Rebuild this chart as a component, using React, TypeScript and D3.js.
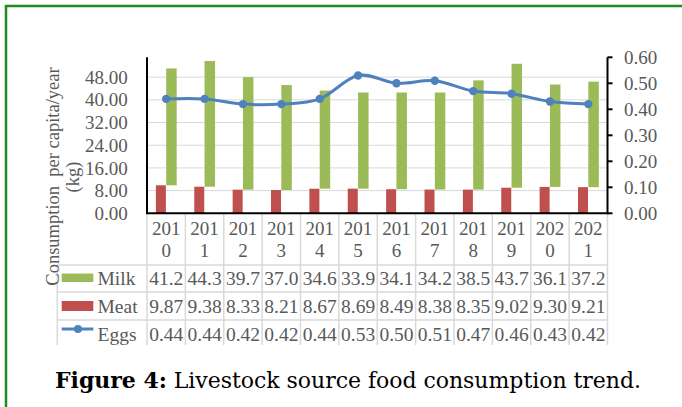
import React from "react";
import * as d3 from "d3";

const years = ["2010","2011","2012","2013","2014","2015","2016","2017","2018","2019","2020","2021"];
const milk = [41.2,44.3,39.7,37.0,34.6,33.9,34.1,34.2,38.5,43.7,36.1,37.2];
const meat = [9.87,9.38,8.33,8.21,8.67,8.69,8.49,8.38,8.35,9.02,9.30,9.21];
const eggs = [0.44,0.44,0.42,0.42,0.44,0.53,0.50,0.51,0.47,0.46,0.43,0.42];
const milkLabels = ["41.2","44.3","39.7","37.0","34.6","33.9","34.1","34.2","38.5","43.7","36.1","37.2"];
const meatLabels = ["9.87","9.38","8.33","8.21","8.67","8.69","8.49","8.38","8.35","9.02","9.30","9.21"];
const eggLabels = ["0.44","0.44","0.42","0.42","0.44","0.53","0.50","0.51","0.47","0.46","0.43","0.42"];
const leftTicks = [0,8,16,24,32,40,48];
const rightTicks = [0,0.1,0.2,0.3,0.4,0.5,0.6];

const C_MILK = "#9BBB59";
const C_MEAT = "#C0504D";
const C_EGG = "#4F81BD";
const GRID = "#d9d9d9";
const TXT = "#595959";
const FONT = "'Liberation Serif', 'Times New Roman', serif";

export default function App() {
  const W = 682, H = 407;
  const x0 = 147, x1 = 607.5, yBase = 213.3, yTop = 57.3;
  const x = d3.scaleBand<string>().domain(years).range([x0, x1]).padding(0);
  const yL = d3.scaleLinear().domain([0, 55]).range([yBase, yTop]);
  const yR = d3.scaleLinear().domain([0, 0.6]).range([yBase, yTop]);
  const bw = x.bandwidth();
  const cx = (y: string) => (x(y) as number) + bw / 2;

  const line = d3.line<number>()
    .x((_, i) => cx(years[i]))
    .y((d) => yR(d))
    .curve(d3.curveCatmullRom.alpha(0));

  const rowLines = [213.3, 265, 292, 320];
  const rowCenters = { header1: 228, header2: 250, milk: 278, meat: 306, eggs: 334 };
  const tableLeft = 57.3, tableBottom = 345;

  return (
    <svg width={W} height={H} style={{ position: "absolute", left: 0, top: 0, display: "block", background: "#fff" }} fontFamily={FONT}>
      {/* green border */}
      <line x1={5} y1={6} x2={W} y2={6} stroke="#1e8c1e" strokeWidth={2.5} />
      <line x1={6} y1={5} x2={6} y2={H} stroke="#1e8c1e" strokeWidth={2.5} />

      {/* gridlines */}
      {leftTicks.filter((t) => t > 0).map((t) => (
        <line key={t} x1={x0} x2={x1} y1={yL(t)} y2={yL(t)} stroke={GRID} strokeWidth={1} />
      ))}

      {/* bars */}
      {years.map((yr, i) => (
        <g key={yr}>
          <rect x={cx(yr) - 10.3} y={yL(meat[i])} width={10} height={yBase - yL(meat[i])} fill={C_MEAT} />
          <rect x={cx(yr)} y={yL(meat[i] + milk[i])} width={10.5} height={yL(meat[i]) - yL(meat[i] + milk[i])} fill={C_MILK} />
        </g>
      ))}

      {/* eggs line */}
      <path d={line(eggs) || ""} fill="none" stroke={C_EGG} strokeWidth={3} />
      {eggs.map((v, i) => (
        <circle key={i} cx={cx(years[i])} cy={yR(v)} r={4.2} fill={C_EGG} />
      ))}

      {/* table lines */}
      {d3.range(years.length + 1).map((i) => {
        const xx = x0 + i * bw;
        return <line key={i} x1={xx} x2={xx} y1={yBase} y2={tableBottom} stroke={GRID} strokeWidth={1.5} />;
      })}
      {rowLines.slice(1).map((yy) => (
        <line key={yy} x1={tableLeft} x2={x1} y1={yy} y2={yy} stroke={GRID} strokeWidth={1.5} />
      ))}
      <line x1={tableLeft} x2={tableLeft} y1={265} y2={tableBottom} stroke={GRID} strokeWidth={1.5} />

      {/* axes */}
      <line x1={x0} x2={x0} y1={yTop} y2={yBase} stroke="#000" strokeWidth={2} />
      <line x1={x1} x2={x1} y1={yTop} y2={yBase} stroke="#000" strokeWidth={2} />
      <line x1={x0 - 1} x2={x1 + 1} y1={yBase} y2={yBase} stroke="#000" strokeWidth={2} />
      {rightTicks.map((t) => (
        <line key={t} x1={x1} x2={x1 + 5} y1={yR(t)} y2={yR(t)} stroke="#000" strokeWidth={2} />
      ))}

      {/* axis labels */}
      {leftTicks.map((t) => (
        <text key={t} x={127.7} y={yL(t)} dy="0.35em" textAnchor="end" fontSize={19} fill={TXT}>
          {d3.format(".2f")(t)}
        </text>
      ))}
      {rightTicks.map((t) => (
        <text key={t} x={624} y={yR(t)} dy="0.35em" textAnchor="start" fontSize={19} fill={TXT}>
          {d3.format(".2f")(t)}
        </text>
      ))}

      {/* y title */}
      <g transform="translate(53,176.5) rotate(-90)">
        <text textAnchor="middle" dy="0.35em" fontSize={18.5} fill={TXT} style={{ whiteSpace: "pre" }}>
          {"Consumption  per capita/year"}
        </text>
      </g>
      <g transform="translate(73,177) rotate(-90)">
        <text textAnchor="middle" dy="0.35em" fontSize={18.5} fill={TXT}>(kg)</text>
      </g>

      {/* table header */}
      {years.map((yr) => (
        <g key={yr}>
          <text x={cx(yr)} y={rowCenters.header1} dy="0.35em" textAnchor="middle" fontSize={19} fill={TXT}>{yr.slice(0, 3)}</text>
          <text x={cx(yr)} y={rowCenters.header2} dy="0.35em" textAnchor="middle" fontSize={19} fill={TXT}>{yr.slice(3)}</text>
        </g>
      ))}
      {/* table values */}
      {years.map((yr, i) => (
        <g key={yr}>
          <text x={cx(yr)} y={rowCenters.milk} dy="0.35em" textAnchor="middle" fontSize={19.5} fill={TXT}>{milkLabels[i]}</text>
          <text x={cx(yr)} y={rowCenters.meat} dy="0.35em" textAnchor="middle" fontSize={19.5} fill={TXT}>{meatLabels[i]}</text>
          <text x={cx(yr)} y={rowCenters.eggs} dy="0.35em" textAnchor="middle" fontSize={19.5} fill={TXT}>{eggLabels[i]}</text>
        </g>
      ))}

      {/* legend keys */}
      <rect x={61.7} y={273.5} width={31.6} height={8.5} fill={C_MILK} />
      <text x={97.5} y={rowCenters.milk} dy="0.35em" fontSize={19.5} fill={TXT}>Milk</text>
      <rect x={61.7} y={301} width={31.6} height={10} fill={C_MEAT} />
      <text x={97.5} y={rowCenters.meat} dy="0.35em" fontSize={19.5} fill={TXT}>Meat</text>
      <line x1={61.7} x2={93.3} y1={329} y2={329} stroke={C_EGG} strokeWidth={3} />
      <circle cx={78} cy={329} r={4} fill={C_EGG} />
      <text x={97.5} y={rowCenters.eggs} dy="0.35em" fontSize={19.5} fill={TXT}>Eggs</text>

      {/* caption */}
      <text x={55} y={388} fontSize={22} fill="#000" fontFamily="'DejaVu Serif', serif" textLength={586} lengthAdjust="spacing">
        <tspan fontWeight="bold">Figure 4:</tspan>
        <tspan> Livestock source food consumption trend.</tspan>
      </text>
    </svg>
  );
}
